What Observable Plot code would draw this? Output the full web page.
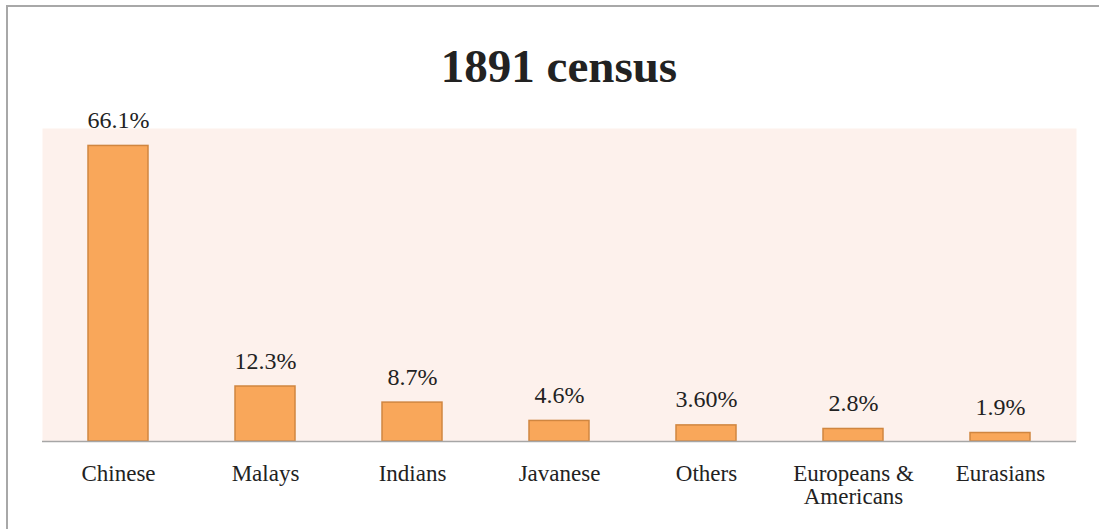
<!DOCTYPE html>
<html>
<head>
<meta charset="utf-8">
<script src="https://cdn.jsdelivr.net/npm/d3@7"></script>
<script src="https://cdn.jsdelivr.net/npm/@observablehq/plot@0.6"></script>
<style>
  html, body { margin: 0; padding: 0; background: #fff; }
  #wrap { position: relative; width: 1099px; height: 529px; overflow: hidden; font-family: "Liberation Serif", serif; }
  #frame { position: absolute; left: 6px; top: 5px; width: 2000px; height: 2000px; border-top: 2px solid #a8a8a8; border-left: 2px solid #a8a8a8; pointer-events: none; }
  #title { position: absolute; left: 0; width: 1118px; top: 43px; text-align: center; font-weight: bold; font-size: 47px; color: #222; line-height: 1; }
  #chart { position: absolute; left: 0; top: 0; }
  #chart svg text { font-family: "Liberation Serif", serif; }
</style>
</head>
<body>
<div id="wrap">
  <div id="frame"></div>
  <div id="chart"></div>
  <div id="title">1891 census</div>
</div>
<script>
const categories = ["Chinese", "Malays", "Indians", "Javanese", "Others", "Europeans & Americans", "Eurasians"];
const tickLabels = ["Chinese", "Malays", "Indians", "Javanese", "Others", "Europeans &\nAmericans", "Eurasians"];
const values = [66.1, 12.3, 8.7, 4.6, 3.6, 2.8, 1.9];
const valueLabels = ["66.1%", "12.3%", "8.7%", "4.6%", "3.60%", "2.8%", "1.9%"];

const data = categories.map((c, i) => ({cat: c, value: values[i], label: valueLabels[i]}));
const tickMap = new Map(categories.map((c, i) => [c, tickLabels[i]]));

const plot = Plot.plot({
  width: 1099,
  height: 529,
  marginTop: 128,
  marginBottom: 88,
  marginLeft: 42,
  marginRight: 23,
  style: {fontFamily: "Liberation Serif, serif", background: "transparent", color: "#222"},
  x: {domain: categories, paddingInner: 0.594, paddingOuter: 0.297, label: null},
  y: {domain: [0, 70], axis: null},
  marks: [
    Plot.frame({fill: "#fdf1ec", stroke: null}),
    Plot.barY(data, {x: "cat", y: "value", fill: "#f9a75a", stroke: "#d08640", strokeWidth: 1.5}),
    Plot.ruleY([0], {stroke: "#a6a6a6", strokeWidth: 1.5}),
    Plot.text(data, {x: "cat", y: "value", text: "label", dy: -18, lineAnchor: "bottom", fontSize: 24, fill: "#222"}),
    Plot.axisX({tickSize: 0, tickPadding: 23, fontSize: 23, lineAnchor: "top", tickFormat: d => tickMap.get(d), fill: "#222", lineHeight: 1.0})
  ]
});
document.getElementById("chart").appendChild(plot);
</script>
</body>
</html>
